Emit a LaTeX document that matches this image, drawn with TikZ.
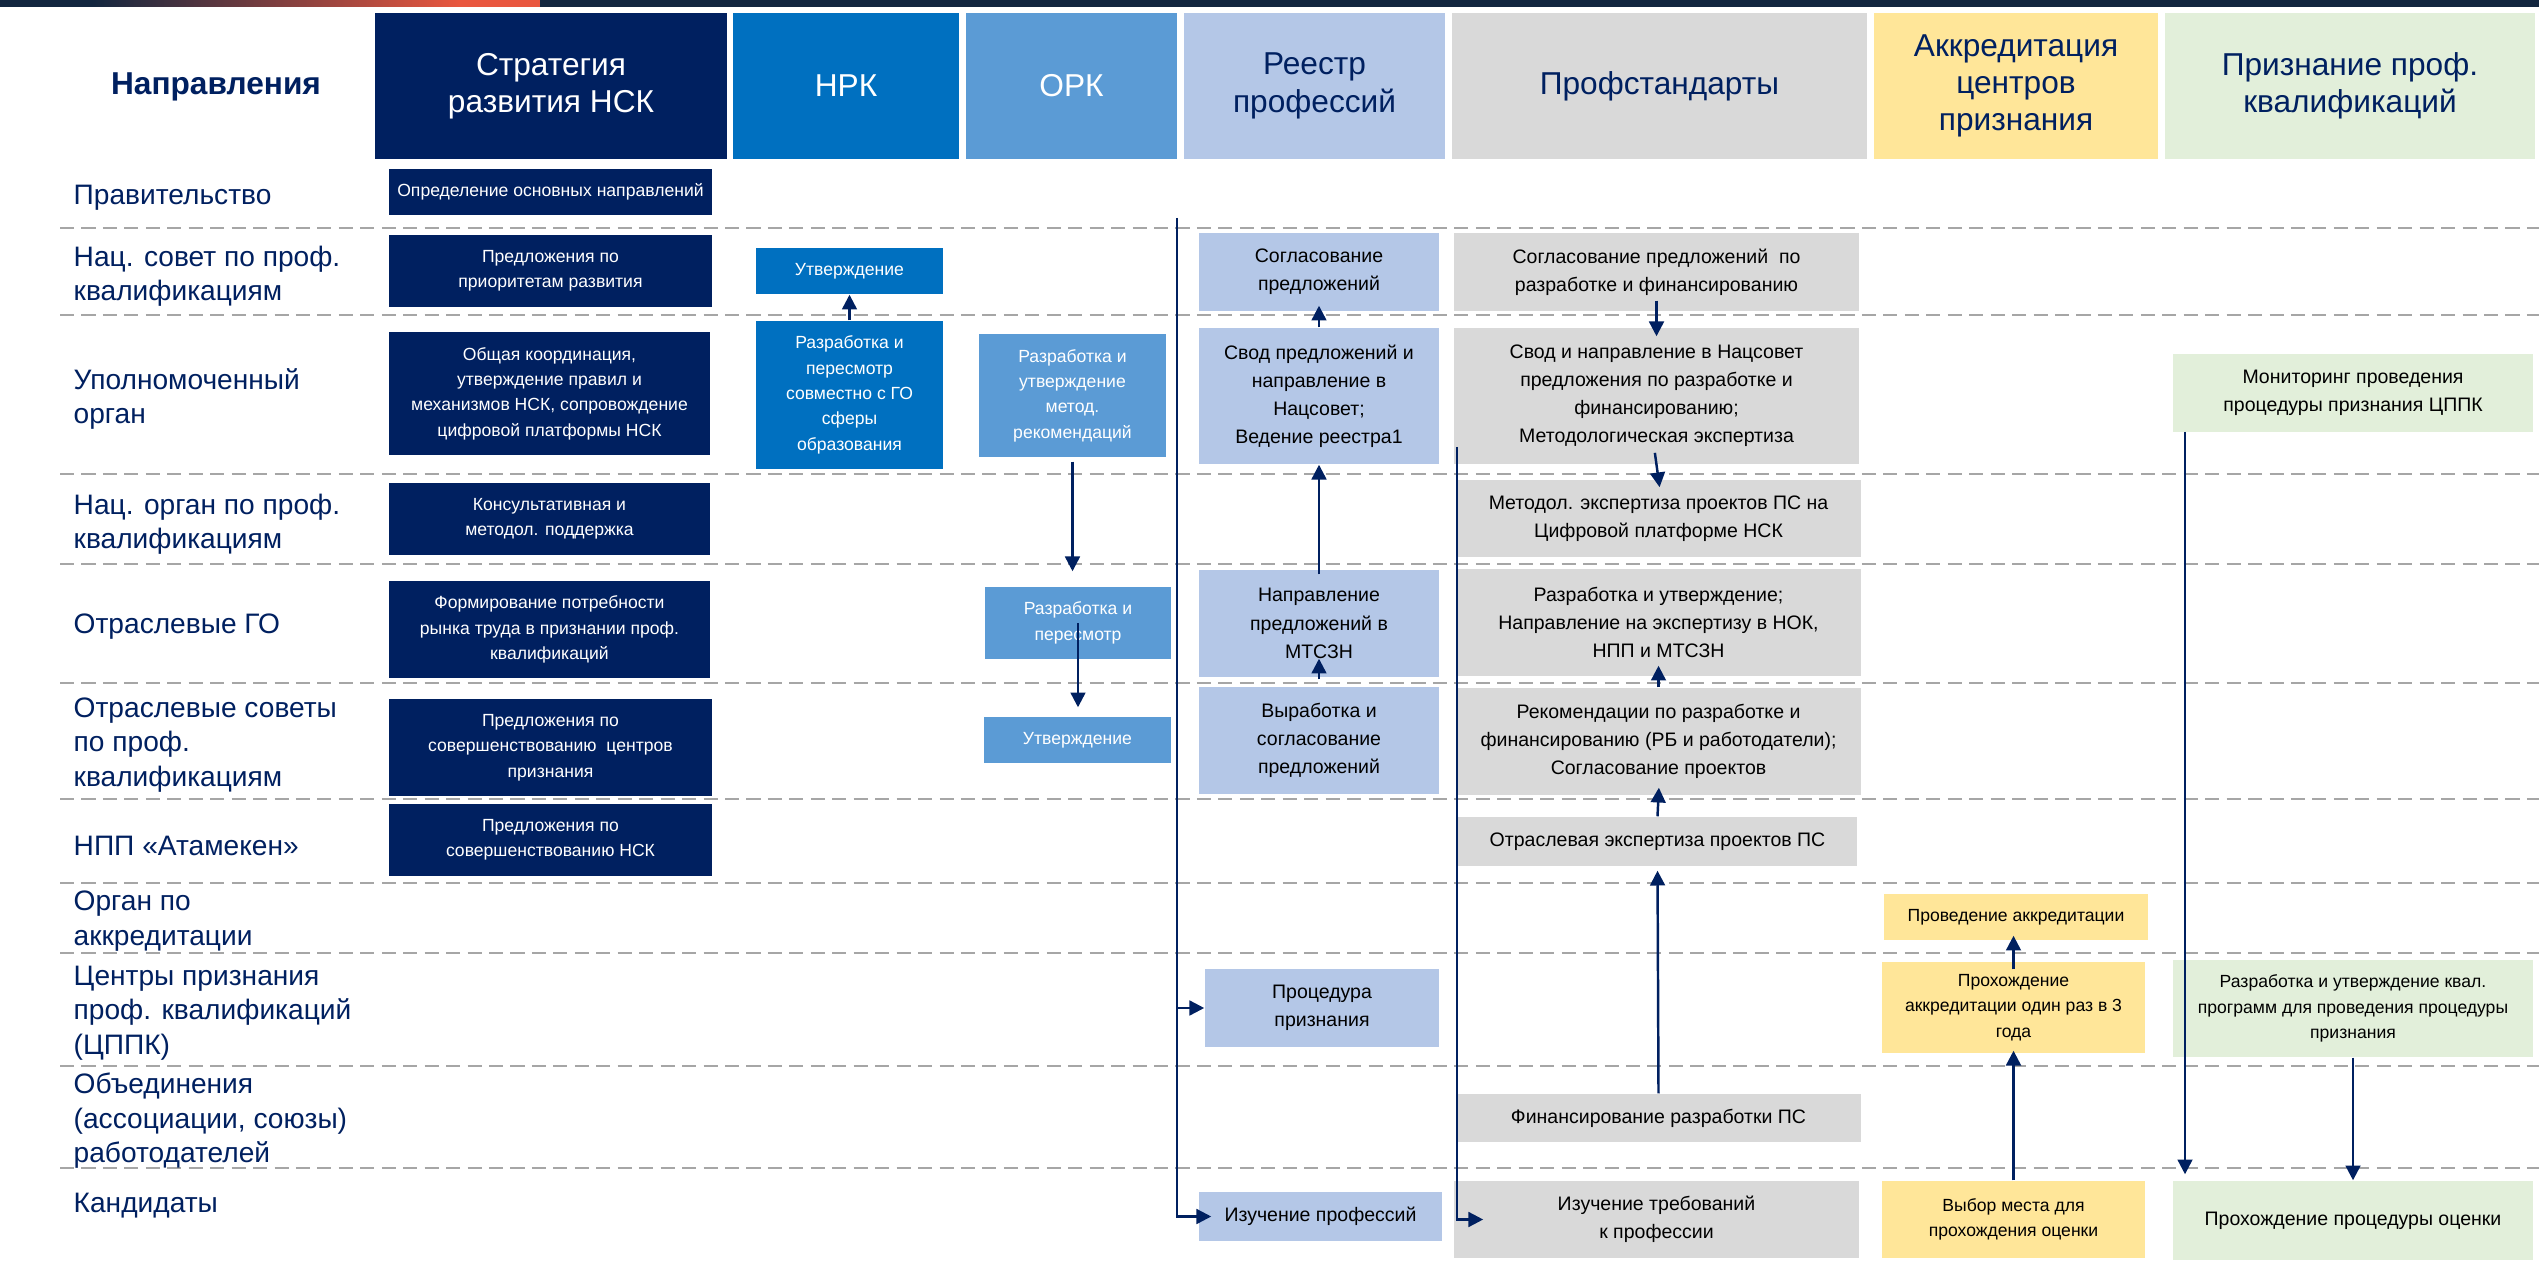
\documentclass[tikz,border=0pt]{standalone}
\usepackage{fontspec}
\setmainfont{Liberation Sans}
\usetikzlibrary{arrows.meta}
\definecolor{nskNavy}{HTML}{002060}
\definecolor{barNavy}{HTML}{12263F}
\definecolor{barOrange}{HTML}{E9573F}
\definecolor{nrkBlue}{HTML}{0070C0}
\definecolor{orkBlue}{HTML}{5B9BD5}
\definecolor{regBlue}{HTML}{B4C7E7}
\definecolor{psGray}{HTML}{D9D9D9}
\definecolor{accYellow}{HTML}{FFE699}
\definecolor{recGreen}{HTML}{E2EFDA}
\definecolor{sepGray}{HTML}{A6A6A6}
\newcommand\smalltxt{\fontsize{5}{7.2}\selectfont}
\newcommand\bigtxt{\fontsize{5.55}{8}\selectfont}
\tikzset{
    hdr/.style={minimum height=1.46cm, inner sep=0pt, align=center, font=\fontsize{9}{10.6}\selectfont},
    rowlbl/.style={anchor=west, align=left, inner sep=0pt, text=nskNavy, font=\fontsize{8}{9.8}\selectfont},
    cell/.style={inner sep=1pt, align=center},
    dbox/.style={cell, fill=nskNavy, text=white, font=\smalltxt},
    nbox/.style={cell, fill=nrkBlue, text=white, font=\smalltxt},
    obox/.style={cell, fill=orkBlue, text=white, font=\smalltxt},
    rbox/.style={cell, fill=regBlue, text=black, font=\bigtxt},
    gbox/.style={cell, fill=psGray, text=black, font=\bigtxt},
    ybox/.style={cell, fill=accYellow, text=black, font=\smalltxt},
    qbox/.style={cell, fill=recGreen, text=black, font=\bigtxt},
    sep/.style={draw=sepGray, line width=0.7pt, dash pattern=on 4pt off 2.1pt},
    flow/.style={draw=nskNavy, line width=0.7pt, -{Triangle[length=4.2pt,width=4.2pt]}}
}
\begin{document}
\begin{tikzpicture}[x=0.01cm, y=-0.01cm]
            \useasboundingbox (0,0) rectangle (2539,1261);
            \fill [white] (0,0) rectangle (2539,1261);
            \fill [barNavy] (0,0) rectangle (2539,7);
            \shade [left color=barNavy, right color=barOrange] (92,0) rectangle (460,7);
            \fill [barOrange] (459,0) rectangle (540,7);

            \draw [sep] (60,228) -- (2539,228);
            \draw [sep] (60,315) -- (2539,315);
            \draw [sep] (60,474) -- (2539,474);
            \draw [sep] (60,564) -- (2539,564);
            \draw [sep] (60,683) -- (2539,683);
            \draw [sep] (60,799) -- (2539,799);
            \draw [sep] (60,883) -- (2539,883);
            \draw [sep] (60,953) -- (2539,953);
            \draw [sep] (60,1066) -- (2539,1066);
            \draw [sep] (60,1168) -- (2539,1168);

            \node (h0) at (216,87) [text=nskNavy, font=\bfseries\fontsize{9}{10.6}\selectfont] {Направления};
            \node (h1) at (551,86) [hdr, fill=nskNavy, text=white, minimum width=3.52cm] {Стратегия\\развития НСК};
            \node (h2) at (846,86) [hdr, fill=nrkBlue, text=white, minimum width=2.26cm] {НРК};
            \node (h3) at (1071.5,86) [hdr, fill=orkBlue, text=white, minimum width=2.11cm] {ОРК};
            \node (h4) at (1314.5,86) [hdr, fill=regBlue, text=nskNavy, minimum width=2.61cm] {Реестр\\профессий};
            \node (h5) at (1659.5,86) [hdr, fill=psGray, text=nskNavy, minimum width=4.15cm] {Профстандарты};
            \node (h6) at (2016,86) [hdr, fill=accYellow, text=nskNavy, minimum width=2.84cm] {Аккредитация\\центров\\признания};
            \node (h7) at (2350,86) [hdr, fill=recGreen, text=nskNavy, minimum width=3.70cm] {Признание проф.\\квалификаций};

            \node (l0) at (73,198) [rowlbl] {Правительство};
            \node (l1) at (73,276) [rowlbl] {Нац. совет по проф.\\квалификациям};
            \node (l2) at (73,399) [rowlbl] {Уполномоченный\\орган};
            \node (l3) at (73,524) [rowlbl] {Нац. орган по проф.\\квалификациям};
            \node (l4) at (73,627) [rowlbl] {Отраслевые ГО};
            \node (l5) at (73,745) [rowlbl] {Отраслевые советы\\по проф.\\квалификациям};
            \node (l6) at (73,846) [rowlbl] {НПП «Атамекен»};
            \node (l7) at (73,921) [rowlbl] {Орган по\\аккредитации};
            \node (l8) at (73,1013) [rowlbl] {Центры признания\\проф. квалификаций\\(ЦППК)};
            \node (l9) at (73,1121) [rowlbl] {Объединения\\(ассоциации, союзы)\\работодателей};
            \node (l10) at (73,1206) [rowlbl] {Кандидаты};

            \node (s1) at (550.5,192) [dbox, minimum width=3.23cm, minimum height=0.46cm] {Определение основных направлений};
            \node (s2) at (550.5,271) [dbox, minimum width=3.23cm, minimum height=0.72cm] {Предложения по\\приоритетам развития};
            \node (s3) at (549.5,393.5) [dbox, minimum width=3.21cm, minimum height=1.23cm] {Общая координация,\\утверждение правил и\\механизмов НСК, сопровождение\\цифровой платформы НСК};
            \node (s4) at (549.5,519) [dbox, minimum width=3.21cm, minimum height=0.72cm] {Консультативная и\\методол. поддержка};
            \node (s5) at (549.5,629.5) [dbox, minimum width=3.21cm, minimum height=0.97cm] {Формирование потребности\\рынка труда в признании проф.\\квалификаций};
            \node (s6) at (550.5,747.5) [dbox, minimum width=3.23cm, minimum height=0.97cm] {Предложения по\\совершенствованию\ \ центров\\признания};
            \node (s7) at (550.5,840) [dbox, minimum width=3.23cm, minimum height=0.72cm] {Предложения по\\совершенствованию НСК};

            \node (n1) at (849.5,271) [nbox, minimum width=1.87cm, minimum height=0.46cm] {Утверждение};
            \node (n2) at (849.5,395) [nbox, minimum width=1.87cm, minimum height=1.48cm] {Разработка и\\пересмотр\\совместно с ГО\\сферы\\образования};

            \node (o1) at (1072.5,395.5) [obox, minimum width=1.87cm, minimum height=1.23cm] {Разработка и\\утверждение\\метод.\\рекомендаций};
            \node (o2) at (1078,623) [obox, minimum width=1.86cm, minimum height=0.72cm] {Разработка и\\пересмотр};
            \node (o3) at (1077.5,740) [obox, minimum width=1.87cm, minimum height=0.46cm] {Утверждение};

            \node (r1) at (1319,272) [rbox, minimum width=2.40cm, minimum height=0.78cm] {Согласование\\предложений};
            \node (r2) at (1319,396) [rbox, minimum width=2.40cm, minimum height=1.36cm] {Свод предложений и\\направление в\\Нацсовет;\\Ведение реестра1};
            \node (r3) at (1319,623.5) [rbox, minimum width=2.40cm, minimum height=1.07cm] {Направление\\предложений в\\МТСЗН};
            \node (r4) at (1319,740.5) [rbox, minimum width=2.40cm, minimum height=1.07cm] {Выработка и\\согласование\\предложений};
            \node (r5) at (1322,1008) [rbox, minimum width=2.34cm, minimum height=0.78cm] {Процедура\\признания};
            \node (r6) at (1320.5,1216.5) [rbox, minimum width=2.43cm, minimum height=0.49cm] {Изучение профессий};

            \node (p1) at (1656.5,272) [gbox, minimum width=4.05cm, minimum height=0.78cm] {Согласование предложений\ \ по\\разработке и финансированию};
            \node (p2) at (1656.5,396) [gbox, minimum width=4.05cm, minimum height=1.36cm] {Свод и направление в Нацсовет\\предложения по разработке и\\финансированию;\\Методологическая экспертиза};
            \node (p3) at (1658.5,518.5) [gbox, minimum width=4.05cm, minimum height=0.77cm] {Методол. экспертиза проектов ПС на\\Цифровой платформе НСК};
            \node (p4) at (1658.5,622.5) [gbox, minimum width=4.05cm, minimum height=1.07cm] {Разработка и утверждение;\\Направление на экспертизу в НОК,\\НПП и МТСЗН};
            \node (p5) at (1658.5,741.5) [gbox, minimum width=4.05cm, minimum height=1.07cm] {Рекомендации по разработке и\\финансированию (РБ и работодатели);\\Согласование проектов};
            \node (p6) at (1657.5,841.5) [gbox, minimum width=3.99cm, minimum height=0.49cm] {Отраслевая экспертиза проектов ПС};
            \node (p7) at (1658.5,1118) [gbox, minimum width=4.05cm, minimum height=0.48cm] {Финансирование разработки ПС};
            \node (p8) at (1656.5,1219.5) [gbox, minimum width=4.05cm, minimum height=0.77cm] {Изучение требований\\к профессии};

            \node (a1) at (2016,917) [ybox, minimum width=2.64cm, minimum height=0.46cm] {Проведение аккредитации};
            \node (a2) at (2013.5,1007.5) [ybox, minimum width=2.63cm, minimum height=0.91cm] {Прохождение\\аккредитации один раз в 3\\года};
            \node (a3) at (2013.5,1219.5) [ybox, minimum width=2.63cm, minimum height=0.77cm] {Выбор места для\\прохождения оценки};

            \node (q1) at (2353,393) [qbox, minimum width=3.60cm, minimum height=0.78cm] {Мониторинг проведения\\процедуры признания ЦППК};
            \node (q2) at (2353,1008.5) [qbox, font=\smalltxt, minimum width=3.60cm, minimum height=0.97cm] {Разработка и утверждение квал.\\программ для проведения процедуры\\признания};
            \node (q3) at (2353,1220.5) [qbox, minimum width=3.60cm, minimum height=0.79cm] {Прохождение процедуры оценки};

            \draw [flow] (n2.north) -- (n1.south);
            \draw [flow, shorten <=0.04cm, shorten >=0.15cm] (o1.south) -- (o1.south |- o2.north);
            \draw [flow, shorten >=0.09cm] (o2.center) -- (o2.center |- o3.north);
            \draw [flow, shorten >=-0.06cm] (r2.north) -- (r1.south);
            \draw [flow, shorten <=-0.05cm] (r3.north) -- (r2.south);
            \draw [flow, shorten <=0.07cm, shorten >=-0.19cm] (r4.north) -- (r3.south);
            \draw [flow, shorten <=-0.11cm, shorten >=-0.09cm] (p1.south) -- (p2.north);
            \draw [flow, shorten <=-0.12cm, shorten >=-0.08cm] (p2.south) -- (p3.north);
            \draw [flow, shorten >=-0.11cm] (p5.north) -- (p4.south);
            \draw [flow, shorten >=-0.08cm] (p6.north) -- (p5.south);
            \draw [flow, shorten >=0.04cm] (p7.north) -- (p6.south);
            \draw [flow, shorten <=-0.08cm, shorten >=-0.05cm] (a2.north) -- (a2.north |- a1.south);
            \draw [flow, shorten >=-0.03cm] (a3.north) -- (a2.south);
            \coordinate (t3) at (2185,432);
            \draw [flow, shorten >=0.06cm] (t3) -- (t3 |- q3.north);
            \draw [flow] (q2.south) -- (q3.north);

            \coordinate (t1) at (1177,218);
            \draw [flow, shorten >=-0.13cm] (t1) |- (r6.west);
            \draw [flow] (t1 |- r5.west) -- (r5.west);
            \coordinate (t2) at (1457,447);
            \draw [flow] (t2) |- ([xshift=0.3cm]p8.west);
        \end{tikzpicture}
\end{document}
